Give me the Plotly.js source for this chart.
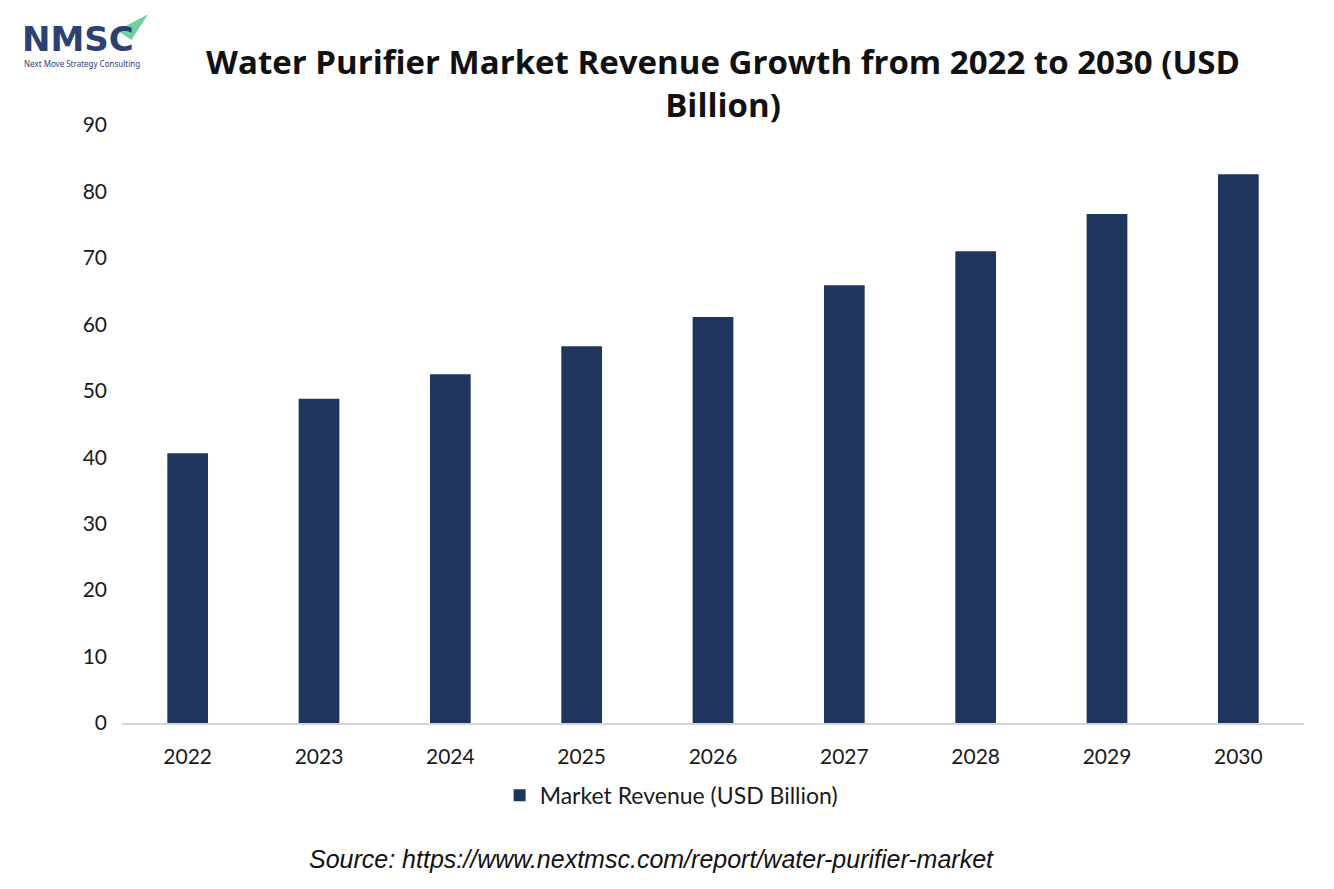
<!DOCTYPE html>
<html>
<head>
<meta charset="utf-8">
<script src="https://cdn.plot.ly/plotly-3.0.1.min.js"></script>
<style>
  html, body { margin: 0; padding: 0; background: #fff; }
  #chart { width: 1334px; height: 889px; }
</style>
</head>
<body>
<div id="chart"></div>
<script>
// years and market revenue (USD billion)
var years = ["2022", "2023", "2024", "2025", "2026", "2027", "2028", "2029", "2030"];
var revenue = [40.6, 48.8, 52.5, 56.7, 61.1, 65.9, 71.0, 76.6, 82.6];
var yTicks = [0, 10, 20, 30, 40, 50, 60, 70, 80, 90];

var seriesName = "Market Revenue (USD Billion)";
var barColor = "#1f355e";

var trace1 = {
  x: years,
  y: revenue,
  type: "bar",
  name: seriesName,
  marker: { color: barColor },
  width: 0.31,
  hoverinfo: "x+y"
};

var data = [trace1];

var layout = {
  width: 1334,
  height: 889,
  margin: { l: 122, r: 30, t: 125, b: 166 },
  paper_bgcolor: "#ffffff",
  plot_bgcolor: "#ffffff",
  font: { family: "Lato, 'Open Sans', sans-serif", color: "#1a1a1a", size: 20 },
  title: {
    text: "<b>Water Purifier Market Revenue Growth from 2022 to 2030 (USD<br>Billion)</b>",
    font: { family: "'Open Sans', sans-serif", size: 33, color: "#111111" },
    x: 0.542,
    xanchor: "center",
    y: 0.917,
    yanchor: "top"
  },
  xaxis: {
    type: "category",
    showline: true,
    linecolor: "#d4d4d4",
    linewidth: 2,
    showgrid: false,
    ticks: "",
    ticklabelstandoff: 14,
    tickfont: { size: 21 }
  },
  yaxis: {
    range: [0, 90],
    tickvals: yTicks,
    showgrid: false,
    zeroline: false,
    showline: false,
    ticks: "",
    ticklabelstandoff: 14,
    tickfont: { size: 21 }
  },
  showlegend: true,
  legend: {
    orientation: "h",
    x: 0.465,
    xanchor: "center",
    y: -0.085,
    yanchor: "top",
    font: { size: 23 }
  },
  annotations: [
    {
      text: "<i>Source: https://www.nextmsc.com/report/water-purifier-market</i>",
      xref: "paper", yref: "paper",
      x: 0.448, y: -0.228,
      xanchor: "center", yanchor: "middle",
      showarrow: false,
      font: { family: "'Liberation Sans', Arial, sans-serif", size: 25, color: "#111111" }
    },
    {
      text: "<b>NMSC</b>",
      xref: "paper", yref: "paper",
      x: -0.086, y: 1.143,
      xanchor: "left", yanchor: "middle",
      showarrow: false,
      font: { family: "'DejaVu Sans', sans-serif", size: 34, color: "#2c4170" }
    },
    {
      text: "Next Move Strategy Consulting",
      xref: "paper", yref: "paper",
      x: -0.085, y: 1.103,
      xanchor: "left", yanchor: "middle",
      showarrow: false,
      font: { family: "'Noto Sans', sans-serif", size: 8, color: "#2c4170" }
    }
  ],
  shapes: [
    {
      // green arrow head of the logo
      type: "path",
      xref: "paper", yref: "paper",
      path: "M -0.004 1.158 L 0.022 1.185 L 0.008 1.142 Z",
      fillcolor: "#6fcf9f",
      line: { width: 0 }
    }
  ]
};

Plotly.newPlot("chart", data, layout, { staticPlot: true });
</script>
</body>
</html>
